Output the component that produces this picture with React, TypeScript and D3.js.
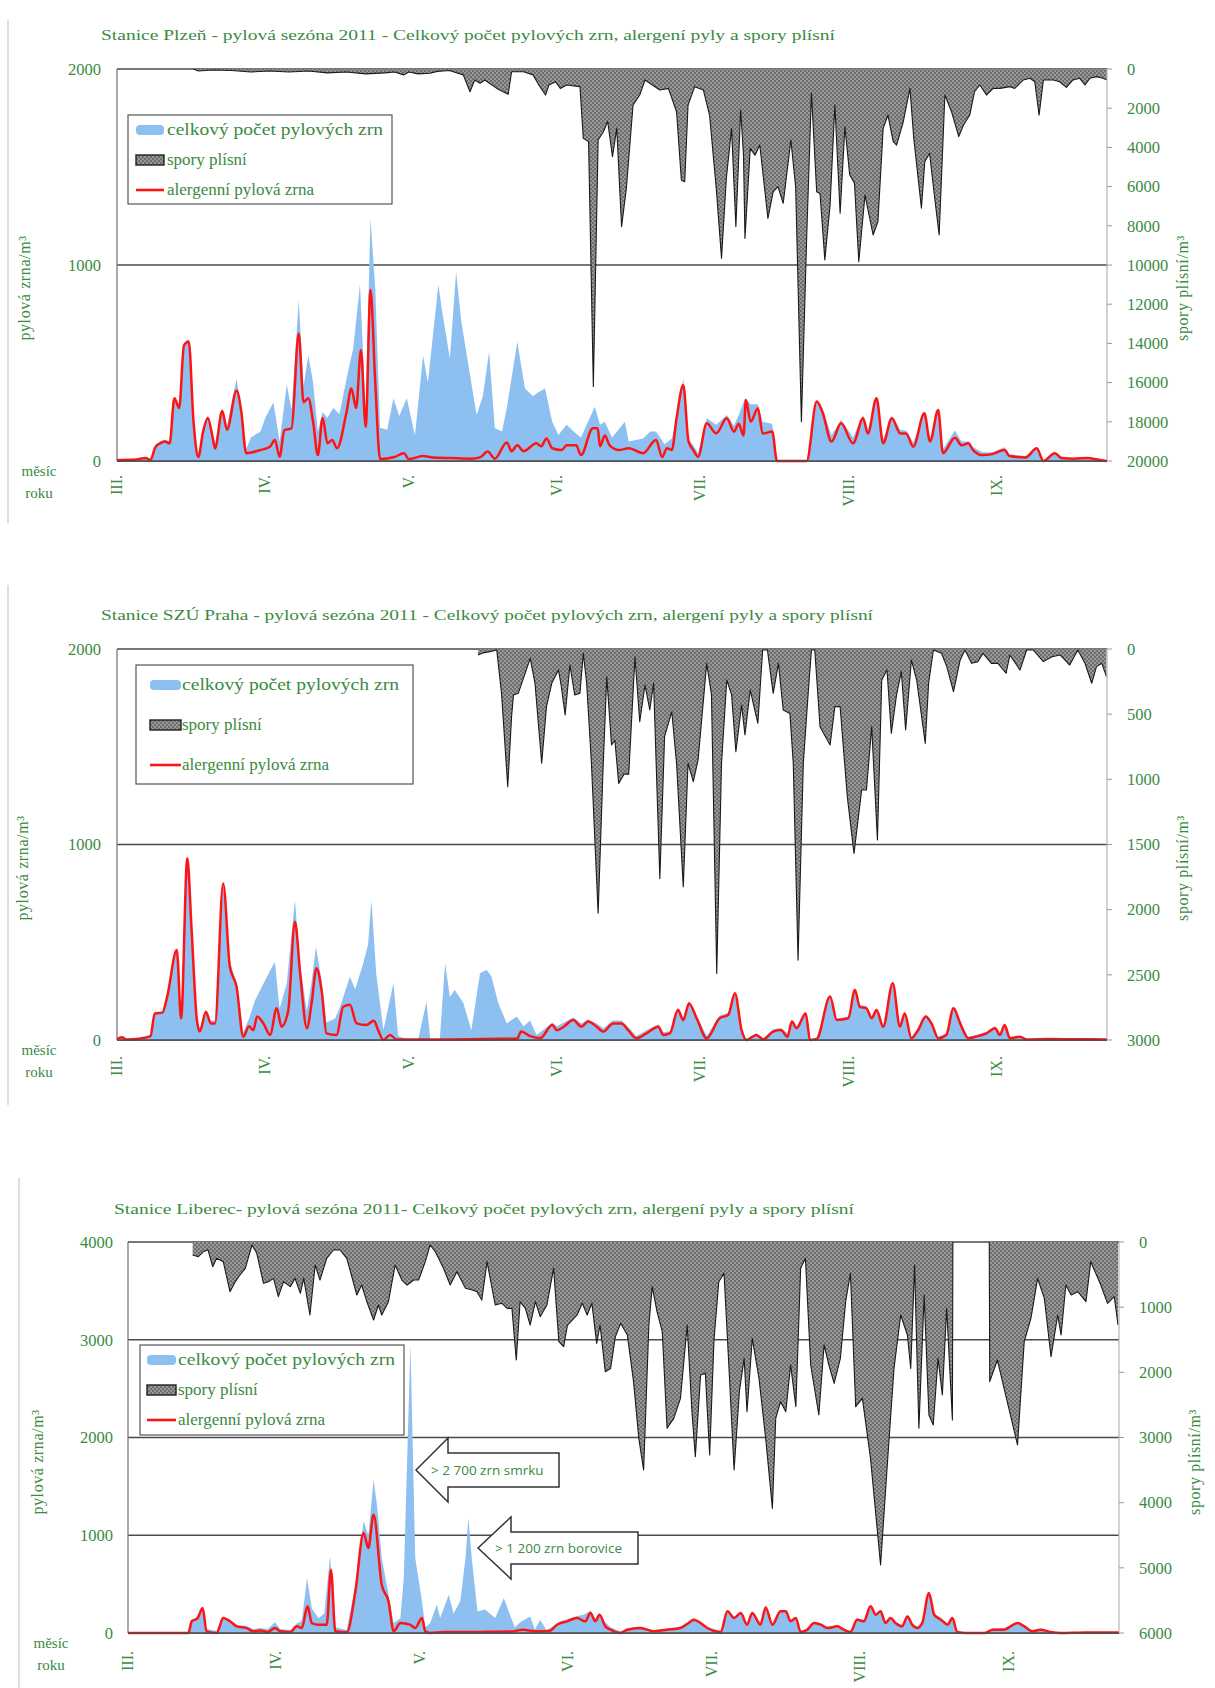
import * as d3 from 'd3'
import type { ReactNode } from 'react'

type Bod = [number, number | null]

const ZELENA = '#3a8a3f'
const MODRA = '#8dc0f1'
const CERVENA = '#ff1414'
const SERIF = '"Liberation Serif", "DejaVu Serif", serif'

// osa x: dny od 1. března
const mesice = ['III.', 'IV.', 'V.', 'VI.', 'VII.', 'VIII.', 'IX.']
const mesicStart = [0, 31, 61, 92, 122, 153, 184]
const posledniDen = 207

const legendaPopisky = ['celkový počet pylových zrn', 'spory plísní', 'alergenní pylová zrna']

// Plzeň
const plzenCelkovy: Bod[] = [[0,5],[4,8],[6,15],[7,5],[8,80],[9,100],[10,110],[11,100],[12,330],[13,280],[14,600],[15,620],[16,210],[17,40],[18,160],[19,230],[20,140],[20.5,90],[22,270],[23,180],[25,420],[26,260],[27,60],[28,120],[30,150],[31,220],[32.7,300],[34,100],[35.5,390],[36.5,260],[38,820],[39,380],[40,540],[41,400],[42,150],[43,250],[44,220],[45.2,270],[46.5,240],[48,420],[49.4,575],[50.8,900],[52,260],[53,1240],[54,880],[55,170],[56.5,160],[57.8,320],[59,230],[60.6,320],[62.3,130],[64,540],[65,400],[67.2,900],[68,760],[69.6,524],[70.9,966],[72,710],[73.8,440],[75.2,235],[76.5,330],[77.8,558],[79,167],[80.5,150],[81.5,270],[83.7,609],[85.3,370],[87,330],[88,350],[89.5,370],[91,200],[92.3,133],[94,185],[95.5,150],[97,120],[99.9,277],[101,185],[102,200],[103.5,120],[106.2,200],[107,100],[110,115],[111.5,150],[112.7,150],[114.5,85],[116,115],[117,220],[118.4,420],[119.5,110],[120.5,80],[121.5,40],[123.3,218],[125.3,185],[127.5,235],[129,180],[130,235],[131.3,320],[132.5,290],[134,290],[135,200],[137,190],[138,0],[144.2,0],[146.3,315],[147.5,270],[149.4,130],[151.4,210],[153.9,120],[156,235],[157,160],[158.8,330],[160.2,110],[162,230],[163.8,160],[165,155],[166.5,95],[168.8,250],[170,115],[171.7,270],[172.7,60],[175.2,155],[176.6,100],[178,100],[179,70],[181,45],[183,45],[185.6,70],[186.6,35],[190,25],[192.3,70],[193.7,5],[196.1,45],[197.5,20],[200,15],[203,18],[205,10],[207,0]]
const plzenAlergenni: Bod[] = [[0,5],[4,8],[6,15],[7,5],[8,70],[9,90],[10,100],[11,90],[12,320],[13,270],[14,590],[15,610],[16,200],[17,20],[18,150],[19,220],[20,120],[20.5,65],[22,255],[23,160],[25,360],[26,250],[27,40],[30,56],[32,73],[33,107],[34,22],[35,158],[36.5,167],[38,650],[39,300],[40,320],[41,200],[42,30],[43,220],[44,90],[45,107],[46,65],[48,250],[49,370],[50,270],[51,566],[52,175],[53,872],[54,400],[55,10],[58,20],[60,40],[61,10],[64,25],[66,18],[70,15],[74,12],[76,20],[77.5,48],[79,12],[81.5,95],[82.5,50],[83.7,80],[85,50],[87.7,90],[88.7,75],[89.8,115],[91,65],[93,56],[94,80],[96,80],[97,30],[99.5,167],[100.5,167],[101,75],[102,130],[103,80],[105,56],[107,65],[110,40],[112.7,107],[114,20],[115,65],[116,56],[117,218],[118.4,388],[119.5,100],[120.5,56],[121.5,22],[123.3,192],[125.3,141],[127.5,218],[129,150],[130,190],[131,130],[131.5,311],[132.5,200],[134,269],[135,140],[137,150],[138,0],[144.2,0],[146.3,303],[147.5,250],[149.4,99],[151.4,192],[153.9,90],[156,218],[157,140],[158.8,320],[160.2,90],[162,218],[163.8,140],[165,140],[166.5,73],[168.8,243],[170,100],[171.7,260],[172.7,40],[175.2,119],[176.6,80],[178,90],[179,56],[181,30],[183,35],[185.6,56],[186.6,25],[190,18],[192.3,65],[193.7,0],[196.1,40],[197.5,15],[200,12],[203,15],[205,8],[207,0]]
const plzenSpory: Bod[] = [[16,0],[17,100],[20,50],[24,80],[28,150],[32,100],[36,150],[40,100],[44,200],[48,150],[52,250],[56,200],[58,150],[60,300],[61,150],[63,250],[65.4,220],[67,120],[69.5,80],[72.4,300],[73.8,1160],[74.8,560],[75.9,730],[76.9,560],[79.4,990],[81.8,1290],[82.5,140],[85,140],[87,300],[88.2,816],[89.6,1330],[90.3,816],[91.7,650],[92.7,990],[94,816],[96.8,900],[97.5,3540],[98.6,3700],[99.6,16200],[100.6,3620],[101.7,3200],[102.6,2680],[103.6,4470],[104.5,3030],[105.5,8040],[106.5,6090],[107.9,1840],[109.3,1330],[110.4,560],[113.5,1070],[115.3,990],[117,2180],[118,5660],[118.7,5750],[119.4,1840],[120.8,900],[122.6,1070],[123.9,2350],[125.3,6090],[126.4,9660],[127.4,5600],[128.5,3030],[129.4,8040],[130.4,2090],[131,4400],[131.3,8640],[132.4,4050],[133.4,4400],[134.4,3880],[136.1,7620],[137.2,6260],[138.2,6000],[139.3,6850],[140.9,3620],[141.9,6000],[143.1,18000],[144.2,8640],[145.2,1240],[146.3,6260],[147,6350],[148,9740],[149.1,6940],[150.1,1840],[151.2,7360],[152.2,2940],[153.2,5400],[154.2,5830],[155.1,9830],[156.4,6430],[158.1,8470],[159.1,7790],[160.2,3030],[161.2,2350],[162.3,3710],[163,3880],[164.4,2690],[165.8,990],[166.6,3540],[168.2,7100],[168.9,4730],[169.9,4300],[170.9,6430],[171.9,8470],[173.1,1330],[174.5,2180],[176,3450],[177,2860],[178.3,2350],[179.3,1160],[180.4,816],[181.8,1330],[183.2,990],[184.6,990],[186.7,900],[187.7,990],[189.5,560],[190.9,475],[191.9,650],[192.8,2350],[193.7,560],[195.8,560],[197.1,650],[198.5,935],[199.9,560],[201.3,475],[202.4,816],[203.4,475],[204.8,390],[206.2,475],[207,560]]

// SZÚ Praha
const prahaCelkovy: Bod[] = [[0,5],[1,14],[2,3],[5,8],[7,25],[7.9,140],[9.5,145],[10.5,230],[12.5,470],[13.4,130],[14.7,940],[15.6,580],[16.7,120],[17.3,60],[18.6,150],[19.6,100],[20.5,100],[22.2,810],[23.6,400],[25,290],[26.4,40],[27.6,110],[28.9,205],[30.3,272],[31.5,330],[33,400],[34,160],[35.5,290],[37.2,716],[38.3,380],[39.7,150],[40.7,300],[41.6,477],[42.8,300],[43.8,90],[45.6,110],[46.5,160],[48.7,324],[49.8,260],[51.5,392],[52.5,490],[53.2,716],[54.2,340],[55.7,50],[57.8,290],[58.8,20],[60.5,5],[63,5],[64.7,196],[65.5,5],[67.5,5],[68.6,392],[69.6,220],[70.6,256],[72.4,190],[74.1,50],[75.9,341],[77.3,358],[78.3,325],[79.7,190],[81.5,85],[83.6,120],[85,70],[86.4,100],[87.7,25],[89.6,60],[91,90],[92,70],[93.4,90],[95.4,115],[97.1,85],[98.5,105],[100.3,85],[101.7,60],[103.7,100],[105.5,100],[106.9,65],[108.6,20],[110.7,50],[113.2,80],[114.2,40],[115.6,45],[117.3,165],[118.4,115],[119.6,200],[121.2,125],[123.3,20],[126,125],[127.8,140],[129.2,250],[130.6,60],[131.6,5],[133.7,35],[135.1,8],[137.2,55],[138.8,60],[140.7,25],[141.1,105],[142.1,70],[144,145],[144.9,5],[146.3,10],[149.1,230],[150.5,110],[152.9,120],[154.3,265],[155.3,180],[156.7,172],[157.8,120],[158.8,162],[160.2,78],[162.2,300],[163.7,78],[164.7,145],[166.1,15],[167.5,60],[169.1,130],[170.3,95],[171.7,15],[173.4,35],[174.9,170],[176.3,95],[178,15],[180,28],[181.8,42],[183.6,70],[184.6,35],[185.6,85],[186.7,14],[188.8,22],[190.2,5],[195,7],[200,5],[207,4]]
const prahaAlergenni: Bod[] = [[0,5],[1,14],[2,3],[5,8],[7,20],[7.9,136],[9.5,140],[10.5,222],[12.5,460],[13.4,110],[14.7,930],[15.6,563],[16.7,102],[17.3,43],[18.6,145],[19.6,85],[20.5,85],[22.2,800],[23.6,375],[25,273],[26.4,17],[27.6,70],[28.5,50],[29.3,120],[30.6,85],[32,26],[33.4,162],[34.4,68],[35.8,150],[37.2,605],[38.3,340],[39.7,60],[40.7,190],[41.7,367],[42.8,250],[43.8,34],[45.9,26],[47.3,170],[48.7,180],[50.1,85],[52.2,77],[53.7,99],[54.6,50],[55.7,0],[57.1,26],[58.5,2],[70,3],[80,6],[83.7,8],[84.5,43],[86.4,20],[88.5,10],[91,77],[92,50],[93.4,68],[95.4,102],[97.1,68],[98.5,94],[100.3,68],[101.7,43],[103.7,85],[105.5,85],[106.9,50],[108.6,9],[110.7,34],[113.2,68],[114.2,26],[115.6,34],[117.3,153],[118.4,102],[119.6,187],[121.2,111],[123.3,9],[126,111],[127.8,128],[129.2,239],[130.6,50],[131.6,0],[133.7,26],[135.1,4],[137.2,43],[138.8,51],[140.2,17],[141.1,94],[142.1,60],[144,136],[144.9,0],[146.3,5],[149.1,222],[150.5,102],[152.9,111],[154.3,256],[155.3,170],[156.7,162],[157.8,111],[158.8,153],[160.2,68],[162.2,290],[163.7,68],[164.7,136],[166.1,9],[167.5,50],[169.1,120],[170.3,85],[171.7,9],[173.4,26],[174.9,162],[176.3,85],[178,9],[180,20],[181.8,34],[183.6,60],[184.6,26],[185.6,77],[186.7,9],[188.8,17],[190.2,3],[195,5],[200,4],[207,3]]
const prahaSpory: Bod[] = [[75.5,46],[76.5,30],[78,20],[79.4,8],[80.4,340],[81.7,1056],[82.5,519],[82.9,353],[83.9,340],[86.4,72],[87.4,263],[88.8,877],[89.8,442],[90.9,263],[92.3,161],[92.8,263],[93.7,506],[94.7,123],[95.7,353],[96.8,340],[97.5,33],[98.2,263],[99.2,877],[100.6,2028],[101.6,950],[102.4,212],[103.4,737],[104.1,700],[104.9,1031],[106,960],[107,960],[108.3,59],[109.3,558],[110.4,276],[111.4,468],[112.2,263],[113.5,1760],[114.5,670],[116,481],[117,877],[118.4,1824],[119.4,877],[120.5,1018],[121.5,850],[123.3,110],[124.3,350],[125.4,2489],[126.4,877],[127.5,238],[128.5,350],[129.4,788],[130.6,430],[131.3,660],[132.4,315],[134,570],[135,8],[136,8],[137.2,340],[138.3,110],[139.3,468],[140.7,494],[141.4,877],[142.4,2387],[143.5,877],[144.5,350],[145.2,8],[145.9,8],[147,596],[149.1,737],[150.1,442],[151.2,442],[152.7,1133],[154.1,1568],[155.7,1082],[156.7,1082],[157.8,596],[159,1466],[159.9,238],[161,161],[161.9,647],[163,350],[164,174],[164.9,622],[166.1,84],[167.2,238],[169,724],[169.7,263],[170.7,8],[172.4,33],[173.5,135],[174.9,327],[176.3,84],[177.3,8],[178.7,110],[180,97],[181.1,33],[182.8,110],[184.2,110],[185.9,186],[186.7,46],[188.8,161],[190.2,8],[191.6,8],[193.7,97],[195.5,59],[197.2,46],[199.2,123],[200.9,8],[202.4,110],[203.8,263],[204.8,135],[205.9,110],[206.9,212]]

// Liberec
const liberecCelkovy: Bod[] = [[0,0],[12.6,0],[13.3,130],[14.5,170],[15.6,270],[16.4,40],[18.5,20],[19.9,165],[21.3,135],[22.7,85],[24.8,70],[26.2,40],[27.6,50],[29.2,40],[30.7,110],[31.8,40],[33.9,30],[35.3,100],[36.3,120],[37.4,563],[38.4,250],[39.8,150],[41,200],[42.2,784],[43.3,60],[45.7,30],[47.5,500],[49.2,1142],[50.2,1000],[51.3,1569],[52,1313],[53,767],[54.4,400],[55.5,100],[56.9,150],[57.6,563],[59,2950],[60,767],[61.4,324],[62.1,60],[63.1,100],[64.5,290],[65.2,153],[67,392],[68,200],[69.4,324],[70.5,767],[71.1,1176],[71.8,767],[73,222],[74.6,240],[76.7,153],[78.5,358],[79.5,222],[80.8,60],[82.2,120],[84,170],[85,35],[86.1,136],[87.4,30],[88.9,70],[90.3,120],[91.7,140],[93.8,175],[95.2,187],[96.6,230],[97.6,150],[98.5,200],[99.7,110],[100.8,60],[102.9,15],[104.3,50],[107,65],[109.8,30],[112.6,45],[115.4,65],[117.1,115],[118.2,150],[119.6,115],[121,65],[123.8,20],[125.2,235],[126.6,165],[128,218],[129.3,100],[130.4,218],[132.1,100],[133.2,275],[134.6,100],[136.3,235],[137.4,235],[138.4,130],[139.5,165],[140.5,20],[141.9,45],[143.3,115],[144.7,100],[146.1,65],[148.2,80],[149.5,45],[150.9,20],[152.3,150],[153.7,130],[155.1,285],[156.2,200],[157.2,235],[158.2,115],[159.3,165],[160.3,115],[161.7,80],[162.8,185],[163.8,100],[164.9,65],[165.9,115],[167.3,420],[168.4,200],[169.8,150],[171.2,100],[172.2,165],[173.2,15],[175,0],[179,0],[180.6,45],[183,50],[185.8,115],[187.2,80],[188.9,25],[190.6,45],[192.7,15],[194.8,5],[200,7],[207,6]]
const liberecAlergenni: Bod[] = [[0,0],[12.6,0],[13.3,119],[14.5,150],[15.6,256],[16.4,17],[18.5,0],[19.9,153],[21.3,120],[22.7,68],[24.8,50],[26.2,17],[27.6,25],[29.2,10],[30.7,51],[31.8,17],[33.9,10],[35.3,68],[36.3,50],[37.5,273],[38.4,102],[39.8,85],[41.5,85],[42.4,648],[43.3,17],[45.7,7],[47.5,426],[49.2,1023],[50.2,870],[51.3,1210],[53,494],[54.4,324],[55.5,17],[56.9,102],[58.9,85],[60,51],[61.4,153],[62.1,17],[63.1,0],[66,10],[70,10],[75,12],[80,15],[82.5,34],[85,17],[88,20],[89.6,85],[91.7,119],[93.8,153],[95.5,119],[96.6,205],[97.6,119],[98.5,187],[99.7,68],[100.8,34],[102.9,0],[104.3,34],[107,51],[109.8,17],[112.6,34],[115.4,51],[117.1,102],[118.2,136],[119.6,102],[121,51],[123.8,10],[125.2,222],[126.6,153],[128,205],[129.3,85],[130.4,205],[132.1,85],[133.2,262],[134.6,85],[136.3,222],[137.4,222],[138.4,119],[139.5,153],[140.5,10],[141.9,34],[143.3,102],[144.7,85],[146.1,51],[148.2,68],[149.5,34],[150.9,10],[152.3,136],[153.7,119],[155.1,273],[156.2,187],[157.2,222],[158.2,102],[159.3,153],[160.3,102],[161.7,68],[162.8,170],[163.8,85],[164.9,51],[165.9,102],[167.3,409],[168.4,187],[169.8,136],[171.2,85],[172.2,153],[173.2,10],[175,0],[179,0],[180.6,34],[183,34],[185.8,102],[187.2,68],[188.9,17],[190.6,34],[192.7,10],[194.8,0],[200,5],[207,5]]
const liberecSpory: Bod[] = [[13.5,200],[14.7,225],[15.7,150],[16.7,120],[17.7,379],[18.5,250],[19.9,302],[21.3,762],[22.4,609],[23.4,506],[24.5,404],[25.9,46],[26.9,174],[28.3,634],[29.3,609],[30.4,558],[31.4,839],[32.5,609],[33.9,685],[34.9,558],[36,788],[36.7,558],[38,1120],[39.1,353],[40.1,584],[41.5,250],[42.9,123],[44.3,123],[45.7,250],[47.8,813],[48.8,660],[49.9,916],[51.3,1197],[52.3,967],[53,1120],[54.4,916],[55.8,353],[57.2,584],[58.3,660],[59.7,584],[60.7,584],[62.1,302],[63.1,46],[64.2,150],[65.9,404],[67.3,660],[68.7,455],[70.5,711],[71.9,736],[72.9,762],[73.9,890],[75,302],[76.7,967],[78.1,941],[79.2,1018],[80.2,1018],[81.1,1811],[81.9,916],[83,1018],[84,1274],[85.1,916],[86.1,1146],[87.5,967],[88.9,404],[90,1529],[91,1606],[91.8,1274],[92.8,1197],[93.8,1120],[94.9,941],[95.9,1120],[96.9,941],[97.9,1555],[98.6,1274],[99.7,1990],[100.8,1940],[101.8,1453],[102.9,1248],[104.3,1427],[105.6,2143],[106.7,3013],[107.7,3499],[108.8,1274],[109.5,685],[110.5,1069],[111.6,1376],[112.6,2859],[114,2706],[115.4,2399],[116.8,1274],[117.8,2604],[118.5,3294],[119.6,2041],[120.6,2015],[121.5,3268],[122.4,1504],[123.4,609],[124.5,481],[125.5,1888],[126.6,3499],[127.7,2297],[128.7,1785],[129.3,2604],[130.4,1478],[131.8,2092],[133.2,3013],[134.6,4087],[135.3,2706],[136.3,2450],[137.4,2604],[138.4,1888],[139.5,2527],[140.5,404],[141.5,250],[142.6,1888],[144.3,2655],[145.4,1580],[146.4,1888],[147.5,2169],[148.8,1785],[149.9,916],[150.9,481],[152,2527],[153.4,2399],[155.1,3320],[157.2,4957],[158.6,3422],[160,1939],[161.4,1120],[162.8,1427],[163.5,1939],[164.3,353],[165.2,2859],[166.3,813],[167.3,2655],[168.2,2808],[169.2,1785],[170.1,2348],[171,1018],[172.2,2731],[172.3,0],[176,null],[179.9,0],[180,2143],[181.6,1811],[185.8,3115],[187.2,1529],[188.6,1171],[190,558],[191.4,864],[192.8,1760],[194.2,1120],[194.9,1427],[195.9,660],[197,813],[198.4,762],[200.1,916],[201.1,302],[203.2,660],[204.6,941],[206,839],[206.8,1274]]

interface Legenda {
  x: number
  y: number
  w: number
  h: number
  radky: number[]
  swX: number
  swW: number
  textX: number
  textLen: number
  fontSize: number
}

interface PanelProps {
  title: string
  titleX: number
  titleY: number
  titleLen: number
  left: number
  right: number
  top: number
  bottom: number
  leftMax: number
  leftTicks: number[]
  rightMax: number
  rightTicks: number[]
  leftLabelX: number
  celkovy: Bod[]
  alergenni: Bod[]
  spory: Bod[]
  legenda: Legenda
  frameX: number
  frameTop: number
  frameBottom: number
  titulLX: number
  titulRX: number
  titulY: number
  mesicDy: number
  mesicRokuX: number
  children?: ReactNode
}

function Panel(p: PanelProps) {
  const x = d3.scaleLinear().domain([0, posledniDen]).range([p.left, p.right])
  const yL = d3.scaleLinear().domain([0, p.leftMax]).range([p.bottom, p.top])
  const yR = d3.scaleLinear().domain([0, p.rightMax]).range([p.top, p.bottom])

  const plocha = d3
    .area<Bod>()
    .x((d) => x(d[0]))
    .y0(yL(0))
    .y1((d) => yL(d[1] as number))
  const sporyPlocha = d3
    .area<Bod>()
    .defined((d) => d[1] !== null)
    .x((d) => x(d[0]))
    .y0(yR(0))
    .y1((d) => yR(d[1] as number))
  const sporyCara = d3
    .line<Bod>()
    .defined((d) => d[1] !== null)
    .x((d) => x(d[0]))
    .y((d) => yR(d[1] as number))
  const cara = d3
    .line<Bod>()
    .curve(d3.curveMonotoneX)
    .x((d) => x(d[0]))
    .y((d) => yL(d[1] as number))

  const lg = p.legenda

  return (
    <g>
      <line x1={p.frameX} x2={p.frameX} y1={p.frameTop} y2={p.frameBottom} stroke="#c8c8c8" strokeWidth={1.2} />
      <text x={p.titleX} y={p.titleY} fontSize={15.5} fill={ZELENA} textLength={p.titleLen} lengthAdjust="spacingAndGlyphs">
        {p.title}
      </text>

      {/* mřížka */}
      {p.leftTicks.map((t) => (
        <line key={t} x1={p.left} x2={p.right} y1={yL(t)} y2={yL(t)} stroke="#4a4a4a" strokeWidth={1.3} />
      ))}

      <path d={plocha(p.celkovy) ?? ''} fill={MODRA} />
      <path d={sporyPlocha(p.spory) ?? ''} fill="url(#sporyVzor)" />
      <path d={sporyCara(p.spory) ?? ''} fill="none" stroke="#1a1a1a" strokeWidth={1.1} strokeLinejoin="round" />
      <path d={cara(p.alergenni) ?? ''} fill="none" stroke={CERVENA} strokeWidth={2.5} strokeLinejoin="round" />

      {/* osy */}
      <line x1={p.left} x2={p.left} y1={p.top} y2={p.bottom} stroke="#7a7a7a" strokeWidth={1.3} />
      <line x1={p.right} x2={p.right} y1={p.top} y2={p.bottom} stroke="#b5b5b5" strokeWidth={1.2} />
      <line x1={p.left} x2={p.right} y1={p.bottom} y2={p.bottom} stroke="#4a4a4a" strokeWidth={1.4} />

      {p.leftTicks.map((t) => (
        <text key={t} x={p.leftLabelX} y={yL(t)} dy="0.35em" textAnchor="end" fontSize={16.5} fill={ZELENA}>
          {t}
        </text>
      ))}
      {p.rightTicks.map((t) => (
        <g key={t}>
          <line x1={p.right} x2={p.right + 5} y1={yR(t)} y2={yR(t)} stroke="#9a9a9a" strokeWidth={1} />
          <text x={p.right + 20} y={yR(t)} dy="0.35em" fontSize={16.5} fill={ZELENA}>
            {t}
          </text>
        </g>
      ))}

      {mesice.map((m, i) => (
        <text
          key={m}
          transform={`translate(${x(mesicStart[i]) + 5},${p.bottom + p.mesicDy}) rotate(-90)`}
          textAnchor="end"
          fontSize={16}
          fill={ZELENA}
        >
          {m}
        </text>
      ))}
      <text x={p.mesicRokuX} y={p.bottom + 15} textAnchor="middle" fontSize={15} fill={ZELENA}>
        měsíc
      </text>
      <text x={p.mesicRokuX} y={p.bottom + 37} textAnchor="middle" fontSize={15} fill={ZELENA}>
        roku
      </text>

      <text transform={`translate(${p.titulLX},${p.titulY}) rotate(-90)`} textAnchor="middle" fontSize={16} fill={ZELENA} letterSpacing={0.6}>
        pylová zrna/m³
      </text>
      <text transform={`translate(${p.titulRX},${p.titulY}) rotate(-90)`} textAnchor="middle" fontSize={16} fill={ZELENA} letterSpacing={0.6}>
        spory plísní/m³
      </text>

      {/* legenda */}
      <rect x={lg.x} y={lg.y} width={lg.w} height={lg.h} fill="#fff" stroke="#555" strokeWidth={1.2} />
      <rect x={lg.swX} y={lg.radky[0] - 5} width={lg.swW} height={10} rx={4} fill={MODRA} />
      <rect x={lg.swX} y={lg.radky[1] - 5} width={lg.swW} height={10} fill="url(#sporyVzor)" stroke="#1e1e1e" strokeWidth={1.4} />
      <line x1={lg.swX} x2={lg.swX + lg.swW} y1={lg.radky[2]} y2={lg.radky[2]} stroke={CERVENA} strokeWidth={2.6} />
      {legendaPopisky.map((t, i) => (
        <text
          key={t}
          x={lg.textX}
          y={lg.radky[i]}
          dy="0.32em"
          fontSize={lg.fontSize}
          fill={ZELENA}
          textLength={i === 0 ? lg.textLen : undefined}
          lengthAdjust="spacingAndGlyphs"
        >
          {t}
        </text>
      ))}

      {p.children}
    </g>
  )
}

function Sipka({ tx, ty, hx, hh, bh, rx, text, textX }: { tx: number; ty: number; hx: number; hh: number; bh: number; rx: number; text: string; textX: number }) {
  const d = `M${tx},${ty} L${hx},${ty - hh} L${hx},${ty - bh} L${rx},${ty - bh} L${rx},${ty + bh} L${hx},${ty + bh} L${hx},${ty + hh} Z`
  return (
    <g>
      <path d={d} fill="#fff" stroke="#333" strokeWidth={1.5} strokeLinejoin="miter" />
      <text x={textX} y={ty} dy="0.35em" fontSize={13.5} fontFamily='"Open Sans", "Liberation Sans", sans-serif' fill={ZELENA}>
        {text}
      </text>
    </g>
  )
}

export default function App() {
  return (
    <svg
      width={1215}
      height={1688}
      style={{ position: 'absolute', left: 0, top: 0, background: '#fff' }}
      fontFamily={SERIF}
    >
      <defs>
        <pattern id="sporyVzor" width={4} height={4} patternUnits="userSpaceOnUse">
          <rect width={4} height={4} fill="#6e6e6e" />
          <circle cx={1} cy={1} r={0.75} fill="#d6d6d6" />
          <circle cx={3} cy={3} r={0.75} fill="#d6d6d6" />
        </pattern>
      </defs>
      <rect width={1215} height={1688} fill="#fff" />

      <Panel
        title="Stanice Plzeň - pylová sezóna 2011 - Celkový počet pylových zrn, alergení pyly a spory plísní"
        titleX={101}
        titleY={40}
        titleLen={734}
        left={117}
        right={1107}
        top={69}
        bottom={461}
        leftMax={2000}
        leftTicks={[0, 1000, 2000]}
        rightMax={20000}
        rightTicks={[0, 2000, 4000, 6000, 8000, 10000, 12000, 14000, 16000, 18000, 20000]}
        leftLabelX={101}
        celkovy={plzenCelkovy}
        alergenni={plzenAlergenni}
        spory={plzenSpory}
        legenda={{ x: 128, y: 115, w: 264, h: 89, radky: [130, 160, 190], swX: 136, swW: 28, textX: 167, textLen: 216, fontSize: 17 }}
        frameX={8}
        frameTop={20}
        frameBottom={523}
        titulLX={30}
        titulRX={1188}
        titulY={288}
        mesicDy={14}
        mesicRokuX={39}
      />

      <Panel
        title="Stanice SZÚ Praha - pylová sezóna 2011 - Celkový počet pylových zrn, alergení pyly a spory plísní"
        titleX={101}
        titleY={620}
        titleLen={772}
        left={117}
        right={1107}
        top={649}
        bottom={1040}
        leftMax={2000}
        leftTicks={[0, 1000, 2000]}
        rightMax={3000}
        rightTicks={[0, 500, 1000, 1500, 2000, 2500, 3000]}
        leftLabelX={101}
        celkovy={prahaCelkovy}
        alergenni={prahaAlergenni}
        spory={prahaSpory}
        legenda={{ x: 136, y: 665, w: 277, h: 119, radky: [685, 725, 765], swX: 150, swW: 31, textX: 182, textLen: 217, fontSize: 17 }}
        frameX={8}
        frameTop={585}
        frameBottom={1105}
        titulLX={28}
        titulRX={1188}
        titulY={868}
        mesicDy={16}
        mesicRokuX={39}
      />

      <Panel
        title="Stanice Liberec- pylová sezóna 2011- Celkový počet pylových zrn, alergení pyly a spory plísní"
        titleX={114}
        titleY={1214}
        titleLen={740}
        left={128}
        right={1119}
        top={1242}
        bottom={1633}
        leftMax={4000}
        leftTicks={[0, 1000, 2000, 3000, 4000]}
        rightMax={6000}
        rightTicks={[0, 1000, 2000, 3000, 4000, 5000, 6000]}
        leftLabelX={113}
        celkovy={liberecCelkovy}
        alergenni={liberecAlergenni}
        spory={liberecSpory}
        legenda={{ x: 140, y: 1345, w: 264, h: 90, radky: [1360, 1390, 1420], swX: 147, swW: 29, textX: 178, textLen: 217, fontSize: 17 }}
        frameX={19}
        frameTop={1178}
        frameBottom={1688}
        titulLX={43}
        titulRX={1200}
        titulY={1462}
        mesicDy={18}
        mesicRokuX={51}
      >
        <Sipka tx={416} ty={1470} hx={448} hh={32} bh={17} rx={559} text="> 2 700 zrn smrku" textX={431} />
        <Sipka tx={478} ty={1548} hx={511} hh={31} bh={16} rx={638} text="> 1 200 zrn borovice" textX={495} />
      </Panel>
    </svg>
  )
}
